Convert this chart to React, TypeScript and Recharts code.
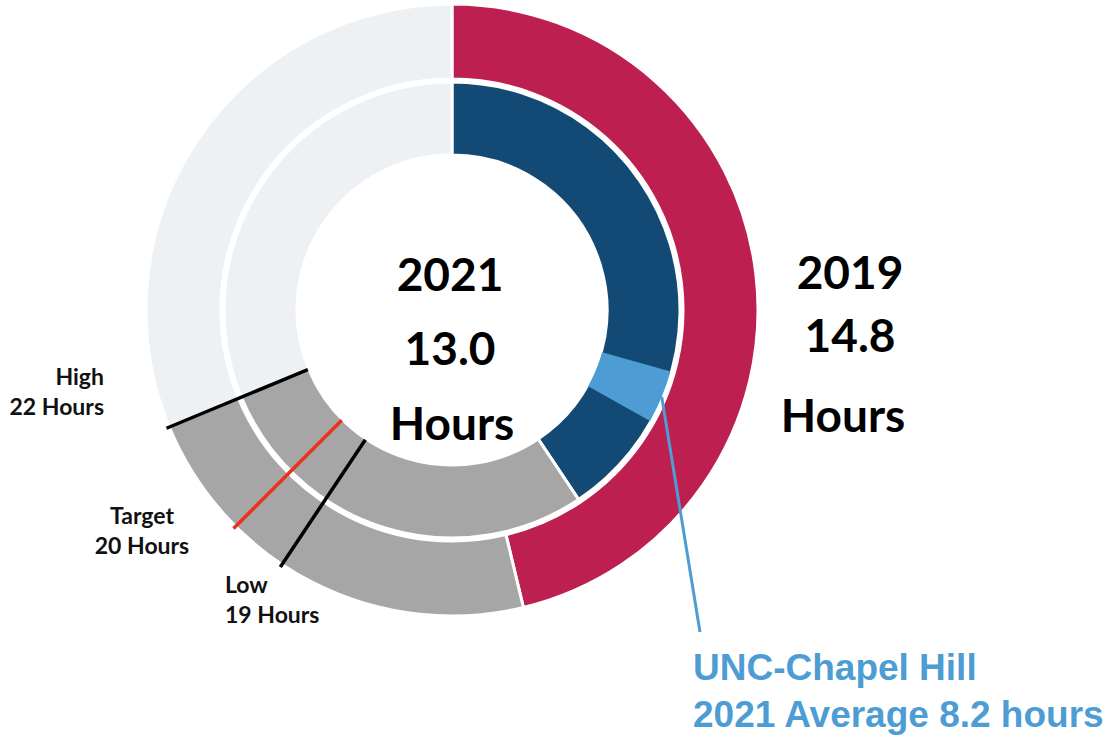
import React from 'react';
import { PieChart, Pie, Cell } from 'recharts';

// whole ring = 32 hours, clockwise from 12 o'clock
const outerLabels = ['2019', 'Gap to High', 'Rest'];
const outerValues = [14.8, 7.2, 10];
const outerColors = ['#bc1f50', '#a6a6a6', '#eef1f4'];

const innerLabels = ['2021', 'Gap to High', 'Rest'];
const innerValues = [13.0, 9.0, 10];
const innerColors = ['#134a75', '#a6a6a6', '#eef1f4'];

// UNC-Chapel Hill highlight on the inner ring
const highlightValues = [9.4, 1.2, 21.4];

// benchmark markers
const markerNames = ['Low', 'Target', 'High'];
const markerHours = [19, 20, 22];
const markerColors = ['#000000', '#e8321e', '#000000'];
const TOTAL_HOURS = 32;

const outerData = outerLabels.map((name, i) => ({ name, value: outerValues[i] }));
const innerData = innerLabels.map((name, i) => ({ name, value: innerValues[i] }));
const highlightData = highlightValues.map((value, i) => ({ name: 'h' + i, value }));
const markerData = markerHours
    .map((h, i) => ({ name: markerNames[i], value: h - (i === 0 ? 0 : markerHours[i - 1]) }))
    .concat([{ name: 'end', value: TOTAL_HOURS - markerHours[markerHours.length - 1] }]);

const RAD = Math.PI / 180;
const polar = (cx: number, cy: number, r: number, a: number) => ({
    x: cx + r * Math.cos(-a * RAD),
    y: cy + r * Math.sin(-a * RAD),
});

const renderMarker = (props: any) => {
    const { cx, cy, innerRadius, outerRadius, endAngle, index } = props;
    if (index >= markerColors.length) return null;
    const a = polar(cx, cy, innerRadius, endAngle);
    const b = polar(cx, cy, outerRadius, endAngle);
    return (
        <line key={'m' + index} x1={a.x} y1={a.y} x2={b.x} y2={b.y}
            stroke={markerColors[index]} strokeWidth={3.5} />
    );
};

const renderLeader = (props: any) => {
    const { cx, cy, outerRadius, midAngle, index } = props;
    if (index !== 1) return null;
    const a = polar(cx, cy, outerRadius, midAngle);
    return (
        <line key="leader" x1={a.x} y1={a.y} x2={700} y2={632}
            stroke="#4d9dd4" strokeWidth={3} />
    );
};

const big = { fontFamily: 'Lato, sans-serif', fontWeight: 700, fontSize: 46, fill: '#000' };
const small = { fontFamily: 'Lato, sans-serif', fontWeight: 700, fontSize: 23, fill: '#111' };
const blue = { fontFamily: '"Liberation Sans", Arial, sans-serif', fontWeight: 700, fontSize: 37, fill: '#4d9dd4' };

export default function App() {
    const cx = 452;
    const cy = 310;
    return (
        <div style={{ position: 'absolute', left: 0, top: 0, width: 1114, height: 736, background: '#fff' }}>
            <PieChart width={1114} height={736} margin={{ top: 0, right: 0, bottom: 0, left: 0 }}>
                <Pie data={outerData} dataKey="value" cx={cx} cy={cy} innerRadius={231} outerRadius={306}
                    startAngle={90} endAngle={-270} stroke="#fff" strokeWidth={3} isAnimationActive={false}>
                    {outerData.map((d, i) => <Cell key={d.name} fill={outerColors[i]} />)}
                </Pie>
                <Pie data={innerData} dataKey="value" cx={cx} cy={cy} innerRadius={155} outerRadius={228}
                    startAngle={90} endAngle={-270} stroke="#fff" strokeWidth={3} isAnimationActive={false}>
                    {innerData.map((d, i) => <Cell key={d.name} fill={innerColors[i]} />)}
                </Pie>
                <Pie data={highlightData} dataKey="value" cx={cx} cy={cy} innerRadius={156} outerRadius={227}
                    startAngle={90} endAngle={-270} stroke="none" isAnimationActive={false}
                    label={renderLeader} labelLine={false}>
                    {highlightData.map((d, i) => <Cell key={d.name} fill={i === 1 ? '#4d9dd4' : 'none'} />)}
                </Pie>
                <Pie data={markerData} dataKey="value" cx={cx} cy={cy} innerRadius={156} outerRadius={309}
                    startAngle={90} endAngle={-270} stroke="none" isAnimationActive={false}
                    label={renderMarker} labelLine={false}>
                    {markerData.map((d) => <Cell key={d.name} fill="none" />)}
                </Pie>
            </PieChart>
            <svg width={1114} height={736} style={{ position: 'absolute', left: 0, top: 0, pointerEvents: 'none' }}>
                <text x={450} y={291} textAnchor="middle" style={big}>2021</text>
                <text x={450} y={365} textAnchor="middle" style={big}>13.0</text>
                <text x={452} y={440} textAnchor="middle" style={big}>Hours</text>

                <text x={850} y={289} textAnchor="middle" style={big}>2019</text>
                <text x={850} y={352} textAnchor="middle" style={big}>14.8</text>
                <text x={843} y={432} textAnchor="middle" style={big}>Hours</text>

                <text x={104} y={385} textAnchor="end" style={small}>High</text>
                <text x={104} y={415} textAnchor="end" style={small}>22 Hours</text>
                <text x={142} y={524} textAnchor="middle" style={small}>Target</text>
                <text x={142} y={554} textAnchor="middle" style={small}>20 Hours</text>
                <text x={225} y={593} textAnchor="start" style={small}>Low</text>
                <text x={225} y={623} textAnchor="start" style={small}>19 Hours</text>

                <text x={693} y={680} style={blue}>UNC-Chapel Hill</text>
                <text x={693} y={727} style={blue}>2021 Average 8.2 hours</text>
            </svg>
        </div>
    );
}
